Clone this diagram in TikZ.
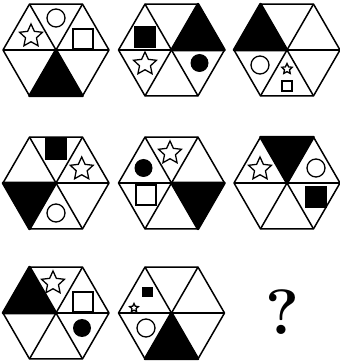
\documentclass[tikz,border=0pt]{standalone}
\usetikzlibrary{calc}

\tikzset{
  hexline/.style={line width=1.5pt, line join=round},
  outline/.style={line width=1.3pt, line join=miter},
  inkfill/.style={fill=black},
}

% six triangles round centre #1
\newcommand{\hexcells}[1]{
  \draw[hexline] (#1) +(0:\R) -- +(60:\R) -- +(120:\R) -- +(180:\R) -- +(240:\R) -- +(300:\R) -- cycle;
  \foreach \a in {0,60,...,300}
    \draw[hexline] (#1) -- +(\a:\R);
}
% black triangle, #2 = angle of its first corner
\newcommand{\blackcell}[2]{
  \filldraw[hexline, line width=2.6pt] (#1) -- +(#2:\R) -- +(#2+60:\R) -- cycle;
}
% square: centre, offset, half side, style
\newcommand{\sqr}[4]{
  \draw[outline,#4] (#1) ++(#2) ++(-#3,-#3) rectangle ++(2*#3,2*#3);
}
% star: centre, offset, outer radius, style
\newcommand{\starat}[4]{
  \coordinate (s) at ($(#1)+(#2)$);
  \draw[outline,#4] (s) ++(90:#3)
    \foreach \k in {1,...,9} { -- ($(s)+({90+36*\k}:{#3*(1-0.52*mod(\k,2))})$) } -- cycle;
}

\begin{document}
\begin{tikzpicture}[x=1pt,y=1pt]

        % Dimensions
        \def\R{53}
        \useasboundingbox (0,0) rectangle (340,362);

        % Centres
        \coordinate (h1) at (56,312);
        \coordinate (h2) at (171.5,312);
        \coordinate (h3) at (287,312);
        \coordinate (h4) at (56,179);
        \coordinate (h5) at (171.5,179);
        \coordinate (h6) at (287,179);
        \coordinate (h7) at (56,49);
        \coordinate (h8) at (171.5,49);

        % Hexagon 1
        \blackcell{h1}{240}
        \hexcells{h1}
        \starat{h1}{-25,14}{12}{}
        \draw[outline] (h1) ++(0,32) circle (9);
        \sqr{h1}{27,11}{10}{}

        % Hexagon 2
        \blackcell{h2}{0}
        \hexcells{h2}
        \sqr{h2}{-26.5,13}{10}{inkfill}
        \starat{h2}{-26.5,-14}{12}{}
        \fill[inkfill] (h2) ++(28,-13) circle (9);

        % Hexagon 3
        \blackcell{h3}{120}
        \hexcells{h3}
        \draw[outline] (h3) ++(-27,-15) circle (9);
        \starat{h3}{0,-19}{5.5}{}
        \sqr{h3}{0,-36}{5}{}

        % Hexagon 4
        \blackcell{h4}{180}
        \hexcells{h4}
        \sqr{h4}{0,34}{10}{inkfill}
        \starat{h4}{25.7,14}{12}{}
        \draw[outline] (h4) ++(0,-30) circle (9);

        % Hexagon 5
        \blackcell{h5}{300}
        \hexcells{h5}
        \starat{h5}{-1.5,30}{12}{}
        \fill[inkfill] (h5) ++(-28,15) circle (9);
        \sqr{h5}{-25.5,-12}{10}{}

        % Hexagon 6
        \blackcell{h6}{60}
        \hexcells{h6}
        \starat{h6}{-27,14}{12}{}
        \draw[outline] (h6) ++(29,15) circle (9);
        \sqr{h6}{29,-14}{10}{inkfill}

        % Hexagon 7
        \blackcell{h7}{120}
        \hexcells{h7}
        \starat{h7}{-3,30}{12}{}
        \sqr{h7}{27,11}{10}{}
        \fill[inkfill] (h7) ++(26,-15) circle (9);

        % Hexagon 8
        \blackcell{h8}{240}
        \hexcells{h8}
        \sqr{h8}{-24,21}{4.5}{inkfill}
        \starat{h8}{-37.5,5}{4.5}{}
        \draw[outline] (h8) ++(-25.5,-15) circle (9);

        % Missing figure
        \node (qmark) at (282,50) {\fontsize{64}{64}\selectfont\bfseries ?};

    \end{tikzpicture}
\end{document}
